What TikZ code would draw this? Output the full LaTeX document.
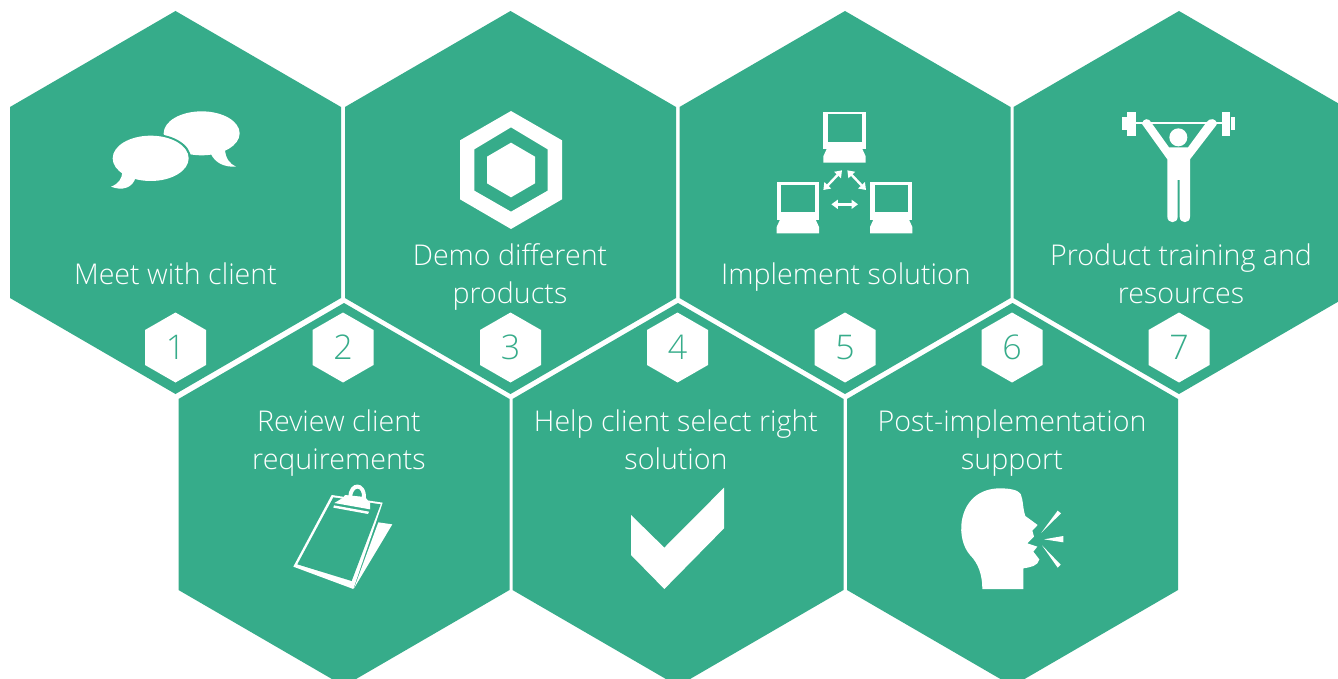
\documentclass[tikz,border=0pt]{standalone}
\usepackage{fontspec}
\setmainfont{Open Sans}[UprightFont=* Light]
\usetikzlibrary{arrows.meta}
\definecolor{hexgreen}{HTML}{36AC8A}
\tikzset{
  bighex/.style={fill=hexgreen,draw=none},
  smallhex/.style={fill=white,draw=none},
  label/.style={text=white,font=\fontsize{28.6}{38}\selectfont,align=center,inner sep=0pt},
  numlabel/.style={text=hexgreen,font=\fontsize{34}{40}\selectfont,inner sep=0pt},
  ink/.style={fill=white,draw=none},
  gap/.style={fill=hexgreen,draw=none},
  icon/.style={shift={#1},scale=0.33333},
  dbl/.style={draw=white,line width=2.4pt,{Triangle[width=9pt,length=6.5pt]}-{Triangle[width=9pt,length=6.5pt]}}
}
\newcommand{\bighexagon}[2]{\fill[bighex] (#1,#2-191.5) -- (#1+165.5,#2-95.5) -- (#1+165.5,#2+95.5) -- (#1,#2+191.5) -- (#1-165.5,#2+95.5) -- (#1-165.5,#2-95.5) -- cycle;}
\newcommand{\numhex}[3]{\fill[smallhex] (#1,#2-35) -- (#1+30.5,#2-17.5) -- (#1+30.5,#2+17.5) -- (#1,#2+35) -- (#1-30.5,#2+17.5) -- (#1-30.5,#2-17.5) -- cycle;
  \node[numlabel] (n#3) at (#1,#2) {#3};}
\newcommand{\computer}{%
  \fill[ink] (0,0) rectangle (127,112);
  \fill[ink] (10,112) -- (117,112) -- (127,134) -- (127,153) -- (0,153) -- (0,134) -- cycle;
  \fill[gap] (14,8) rectangle (115,90);
}
\begin{document}
\begin{tikzpicture}[x=1pt,y=-1pt]
\useasboundingbox (0,0) rectangle (1338,679);
\fill[white] (0,0) rectangle (1338,679);
\bighexagon{175.5}{202.5}
\bighexagon{510.5}{202.5}
\bighexagon{845}{202.5}
\bighexagon{1179}{202.5}
\bighexagon{344}{494.5}
\bighexagon{678}{494.5}
\bighexagon{1012.5}{494.5}
\numhex{175.5}{347.5}{1}
\numhex{343}{347.5}{2}
\numhex{510.5}{347.5}{3}
\numhex{677.5}{347.5}{4}
\numhex{845}{347.5}{5}
\numhex{1012}{347.5}{6}
\numhex{1179}{347.5}{7}
\node[label] (t1) at (175.5,274) {Meet with client};
\node[label] (t3) at (510,277) {Demo different\\products};
\node[label] (t5) at (846,277) {Implement solution};
\node[label] (t7) at (1181,274) {Product training and\\resources};
\node[label] (t2) at (339,443) {Review client\\requirements};
\node[label] (t4) at (676,440) {Help client select right\\solution};
\node[label] (t6) at (1012,443) {Post-implementation\\support};
% speech bubbles
\begin{scope}[icon={(90,90)}]
  \fill[ink] (335,130) ellipse [x radius=114,y radius=66];
  \fill[ink] (405,175) .. controls (405,205) and (420,222) .. (438,230) .. controls (405,232) and (375,220) .. (362,190) -- cycle;
  \fill[gap] (182,205) ellipse [x radius=121,y radius=74];
  \fill[ink] (182,205) ellipse [x radius=114,y radius=68];
  \fill[ink] (97,245) .. controls (97,265) and (85,282) .. (63,290) .. controls (95,303) and (128,295) .. (137,262) -- cycle;
\end{scope}
% hexagon mark
\begin{scope}[icon={(445,100)}]
  \fill[ink,even odd rule] (198,33) -- (351,121) -- (351,298) -- (198,387) -- (45,298) -- (45,121) -- cycle
     (198,82) -- (308,148) -- (308,272) -- (198,335) -- (88,272) -- (88,148) -- cycle;
  \fill[ink] (198,128) -- (270,170) -- (270,250) -- (198,292) -- (126,250) -- (126,170) -- cycle;
\end{scope}
% computers
\begin{scope}[icon={(760,100)}]
  \begin{scope}[shift={(190,35)}]\computer\end{scope}
  \begin{scope}[shift={(50,247)}]\computer\end{scope}
  \begin{scope}[shift={(330,247)}]\computer\end{scope}
  \coordinate (a1) at (190,270); \coordinate (a2) at (246,211);
  \coordinate (b1) at (262,211); \coordinate (b2) at (318,270);
  \coordinate (c1) at (214,313); \coordinate (c2) at (294,313);
  \draw[dbl] (a1) -- (a2);
  \draw[dbl] (b1) -- (b2);
  \draw[dbl] (c1) -- (c2);
\end{scope}
% weightlifter
\begin{scope}[icon={(1110,100)}]
  \fill[ink] (52,35) rectangle (78,107);
  \fill[ink] (37,52) rectangle (50,90);
  \fill[ink] (335,35) rectangle (360,107);
  \fill[ink] (363,52) rectangle (376,90);
  \fill[ink] (78,67) rectangle (335,73);
  \fill[ink] (205,112) circle (27);
  \fill[ink] (96,72) .. controls (98,54) and (118,53) .. (124,68) -- (177,142) -- (234,142) -- (290,66) .. controls (298,53) and (322,54) .. (320,74) -- (240,178) -- (240,350) .. controls (240,372) and (209,372) .. (209,350) -- (209,240) -- (203,240) -- (203,350) .. controls (203,372) and (172,372) .. (172,350) -- (172,178) -- cycle;
\end{scope}
% clipboard
\begin{scope}[icon={(280,475)}]
  \fill[ink] (295,142) -- (337,148) -- (222,340) -- cycle;
  \fill[ink] (155,60) -- (308,83) -- (220,342) -- (40,275) -- cycle;
  \fill[gap] (160,67) -- (302,88) -- (215,318) -- (52,268) -- cycle;
  \fill[ink] (205,68) .. controls (205,15) and (260,15) .. (258,70) -- (246,68) .. controls (248,32) and (218,32) .. (216,68) -- cycle;
  \fill[ink] (195,60) -- (255,66) -- (270,84) -- (270,103) -- (163,84) -- (190,68) -- cycle;
  \fill[ink] (162,91) -- (267,110) -- (264,117) -- (160,98) -- cycle;
\end{scope}
% check mark
\begin{scope}[icon={(615,475)}]
  \fill[ink] (48,120) -- (148,218) -- (327,38) -- (327,160) -- (148,342) -- (48,240) -- cycle;
\end{scope}
% talking head
\begin{scope}[icon={(950,480)}]
  \fill[ink] (97,327) .. controls (97,285) and (85,250) .. (60,225) .. controls (38,200) and (30,160) .. (35,125) .. controls (45,60) and (90,25) .. (150,25) .. controls (180,25) and (205,30) .. (212,42) .. controls (220,60) and (218,85) .. (226,108) -- (263,135) -- (247,152) -- (252,170) -- (232,190) -- (262,200) -- (250,215) -- (268,238) .. controls (265,258) and (240,262) .. (220,265) -- (220,327) -- cycle;
  \fill[ink] (274,158) -- (323,92) -- (333,100) -- cycle;
  \fill[ink] (282,178) -- (340,168) -- (340,187) -- cycle;
  \fill[ink] (276,196) -- (332,254) -- (323,263) -- cycle;
\end{scope}
\end{tikzpicture}
\end{document}
